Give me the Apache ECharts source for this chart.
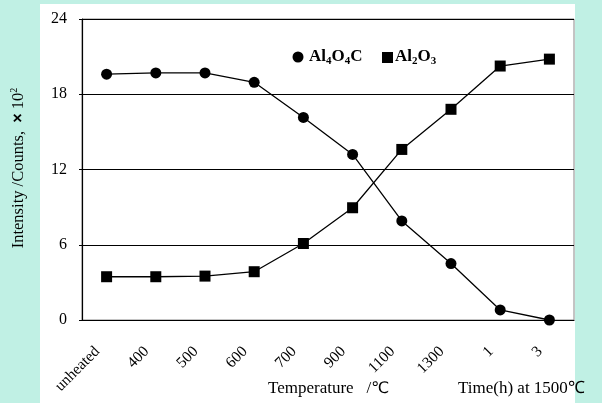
<!DOCTYPE html>
<html><head><meta charset="utf-8">
<script src="https://cdn.jsdelivr.net/npm/echarts@6/dist/echarts.min.js"></script>
<style>html,body{margin:0;padding:0;background:#c0f0e4;}#c{width:602px;height:403px;}</style>
</head><body><div id="c"></div>
<script>
const categories = ['unheated','400','500','600','700','900','1100','1300','1','3'];
const al4o4c = [19.6, 19.7, 19.7, 18.95, 16.15, 13.2, 7.9, 4.5, 0.8, 0.0];
const al2o3 = [3.45, 3.45, 3.5, 3.85, 6.1, 8.95, 13.6, 16.8, 20.25, 20.8];
const yTicks = [0, 6, 12, 18, 24];

const serif = '"Liberation Serif","Times New Roman",serif';
const sans = '"Liberation Sans","DejaVu Sans",sans-serif';
const chart = echarts.init(document.getElementById('c'));
chart.setOption({
  backgroundColor: '#c0f0e4',
  animation: false,
  graphic: [
    {type:'rect', z:-10, shape:{x:40,y:4,width:535,height:400}, style:{fill:'#ffffff'}},
    {type:'text', x:19, y:168, rotation:Math.PI/2,
      style:{text:'{a|Intensity /Counts,  }{b|×}{a| 10}{s|2}', align:'center', verticalAlign:'middle',
        rich:{a:{fontFamily:serif,fontSize:16.5,fill:'#000'}, b:{fontFamily:sans,fontSize:16,fontWeight:'bold',fill:'#000'}, s:{fontFamily:serif,fontSize:10,fill:'#000',padding:[0,0,9,0]}}}},
    {type:'text', x:268, y:389,
      style:{text:'{a|Temperature   /}{b|℃}', verticalAlign:'middle',
        rich:{a:{fontFamily:serif,fontSize:17,fill:'#000'}, b:{fontFamily:sans,fontSize:16,fill:'#000'}}}},
    {type:'text', x:458, y:389,
      style:{text:'Time(h) at 1500℃', verticalAlign:'middle', fontFamily:serif, fontSize:17, fill:'#000'}},
    {type:'circle', shape:{cx:298, cy:57, r:5.5}, style:{fill:'#000'}},
    {type:'text', x:309, y:57,
      style:{text:'{a|Al}{s|4}{a|O}{s|4}{a|C}', verticalAlign:'middle',
        rich:{a:{fontFamily:serif,fontSize:17,fontWeight:'bold',fill:'#000'}, s:{fontFamily:serif,fontSize:11,fontWeight:'bold',fill:'#000',padding:[9,0,0,0]}}}},
    {type:'rect', shape:{x:382, y:52, width:11, height:11}, style:{fill:'#000'}},
    {type:'text', x:395, y:57,
      style:{text:'{a|Al}{s|2}{a|O}{s|3}', verticalAlign:'middle',
        rich:{a:{fontFamily:serif,fontSize:17,fontWeight:'bold',fill:'#000'}, s:{fontFamily:serif,fontSize:11,fontWeight:'bold',fill:'#000',padding:[9,0,0,0]}}}}
  ],
  grid: {left:82, right:28, top:19, bottom:83, show:true, borderColor:'#888', borderWidth:1, backgroundColor:'transparent'},
  xAxis: {
    type:'category', data:categories, boundaryGap:true,
    axisLine:{lineStyle:{color:'#000', width:1.2}},
    axisTick:{inside:true, length:5, lineStyle:{color:'#000'}},
    axisLabel:{rotate:45, fontFamily:serif, fontSize:15.5, color:'#000', margin:20, interval:0, padding:[0,13,0,0]}
  },
  yAxis: {
    type:'value', min:0, max:24, interval:6,
    axisLine:{show:true, lineStyle:{color:'#000', width:1.2}},
    axisTick:{show:true, length:3, lineStyle:{color:'#000'}},
    axisLabel:{fontFamily:serif, fontSize:16, color:'#000', margin:15,
      formatter: v => yTicks.includes(v) ? String(v) : ''},
    splitLine:{show:true, lineStyle:{color:'#000', width:1}}
  },
  series: [
    {name:'Al4O4C', type:'line', data:al4o4c, symbol:'circle', symbolSize:11,
      lineStyle:{color:'#000', width:1.3}, itemStyle:{color:'#000'}},
    {name:'Al2O3', type:'line', data:al2o3, symbol:'rect', symbolSize:11,
      lineStyle:{color:'#000', width:1.3}, itemStyle:{color:'#000'}}
  ]
});
</script></body></html>
